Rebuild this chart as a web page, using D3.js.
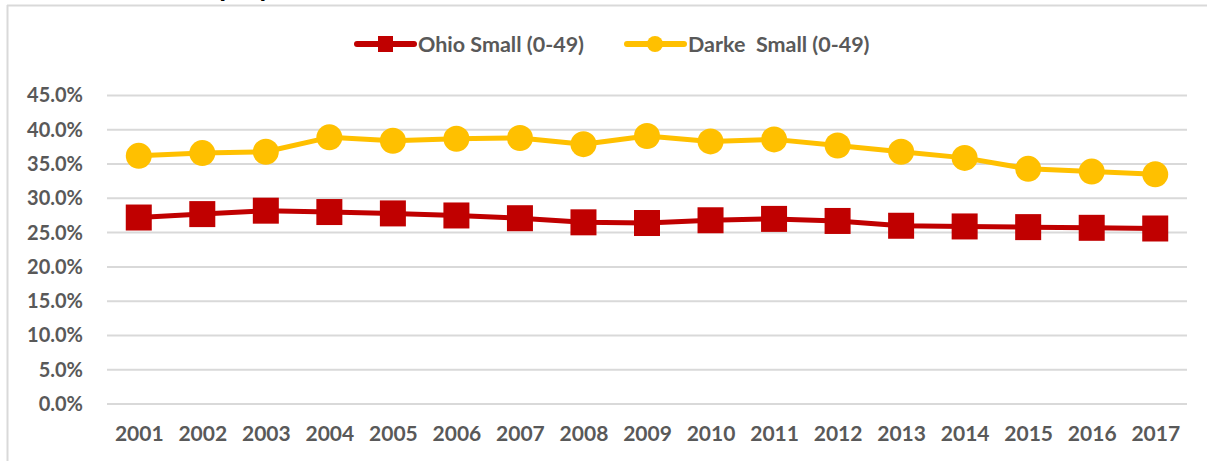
<!DOCTYPE html>
<html>
<head>
<meta charset="utf-8">
<script src="https://cdn.jsdelivr.net/npm/d3@7"></script>
<style>
  body { margin: 0; background: #fff; }
  svg { display: block; }
  text { font-family: Lato, "Open Sans", sans-serif; font-weight: bold; }
</style>
</head>
<body>
<div class="canvas"></div>
<script>
// data
const years = ['2001','2002','2003','2004','2005','2006','2007','2008','2009','2010','2011','2012','2013','2014','2015','2016','2017']
const ohioSmall = [27.2, 27.7, 28.2, 28.0, 27.8, 27.5, 27.1, 26.5, 26.4, 26.8, 27.0, 26.7, 26.0, 25.9, 25.8, 25.7, 25.6]
const darkeSmall = [36.2, 36.6, 36.8, 38.9, 38.4, 38.7, 38.8, 37.9, 39.1, 38.3, 38.6, 37.7, 36.8, 35.9, 34.3, 33.9, 33.5]
const yTicks = [0, 5, 10, 15, 20, 25, 30, 35, 40, 45]
const seriesNames = ['Ohio Small (0-49)', 'Darke\u00a0 Small (0-49)']

const width = 1207
const height = 461
const red = '#C00000'
const gold = '#FFC000'
const grey = '#595959'

const svg = d3.select('.canvas')
    .append('svg')
    .attr('width', width)
    .attr('height', height)

// title sits above the frame, only the descenders peek in
svg.append('text')
    .attr('x', 180)
    .attr('y', -4)
    .attr('font-size', 28)
    .attr('fill', '#000')
    .text('Employment')

// chart frame (only top and left edges show)
svg.append('line')
    .attr('x1', 7).attr('x2', width).attr('y1', 5.5).attr('y2', 5.5)
    .attr('stroke', '#d9d9d9').attr('stroke-width', 2)
svg.append('line')
    .attr('x1', 7.5).attr('x2', 7.5).attr('y1', 5).attr('y2', height)
    .attr('stroke', '#d9d9d9').attr('stroke-width', 2)

// scales
const x = d3.scalePoint()
    .domain(years)
    .range([107, 1187])
    .padding(0.5)

const y = d3.scaleLinear()
    .domain([0, 45])
    .range([404, 95.5])

// gridlines
svg.append('g')
    .selectAll('line')
    .data(yTicks)
    .enter()
    .append('line')
    .attr('x1', 107)
    .attr('x2', 1187)
    .attr('y1', d => y(d))
    .attr('y2', d => y(d))
    .attr('stroke', '#d9d9d9')
    .attr('stroke-width', 2)

// y axis
const yAxis = d3.axisLeft(y)
    .tickValues(yTicks)
    .tickFormat(d => d.toFixed(1) + '%')
    .tickSize(0)
    .tickPadding(0)

const yAxisGroup = svg.append('g')
    .attr('transform', 'translate(83, 0)')
    .call(yAxis)
yAxisGroup.select('.domain').remove()
yAxisGroup.selectAll('text')
    .attr('font-size', 20)
    .attr('font-family', 'Lato, sans-serif')
    .attr('font-weight', 900)
    .attr('fill', grey)

// x axis
const xAxis = d3.axisBottom(x).tickSize(0).tickPadding(0)
const xAxisGroup = svg.append('g')
    .attr('transform', 'translate(0, 426)')
    .call(xAxis)
xAxisGroup.select('.domain').remove()
xAxisGroup.selectAll('text')
    .attr('font-size', 21)
    .attr('font-family', 'Lato, sans-serif')
    .attr('font-weight', 900)
    .attr('fill', grey)

const line = d3.line()
    .x((d, i) => x(years[i]))
    .y(d => y(d))

// Darke series
svg.append('path')
    .datum(darkeSmall)
    .attr('d', line)
    .attr('fill', 'none')
    .attr('stroke', gold)
    .attr('stroke-width', 5)
    .attr('stroke-linejoin', 'round')

svg.append('g')
    .selectAll('circle')
    .data(darkeSmall)
    .enter()
    .append('circle')
    .attr('cx', (d, i) => x(years[i]))
    .attr('cy', d => y(d))
    .attr('r', 13)
    .attr('fill', gold)

// Ohio series
svg.append('path')
    .datum(ohioSmall)
    .attr('d', line)
    .attr('fill', 'none')
    .attr('stroke', red)
    .attr('stroke-width', 5)
    .attr('stroke-linejoin', 'round')

const sq = 26
svg.append('g')
    .selectAll('rect')
    .data(ohioSmall)
    .enter()
    .append('rect')
    .attr('x', (d, i) => x(years[i]) - sq / 2)
    .attr('y', d => y(d) - sq / 2)
    .attr('width', sq)
    .attr('height', sq)
    .attr('fill', red)

// legend
const legendY = 44
const legend = svg.append('g')

const leg1 = legend.append('g').attr('transform', 'translate(357, ' + legendY + ')')
leg1.append('line')
    .attr('x1', 0).attr('x2', 57)
    .attr('stroke', red).attr('stroke-width', 6).attr('stroke-linecap', 'round')
leg1.append('rect')
    .attr('x', 21).attr('y', -8).attr('width', 15).attr('height', 16)
    .attr('fill', red)
leg1.append('text')
    .attr('x', 61).attr('dy', '0.35em')
    .attr('font-size', 21.5)
    .attr('font-weight', 900)
    .attr('fill', grey)
    .text(seriesNames[0])

const leg2 = legend.append('g').attr('transform', 'translate(627, ' + legendY + ')')
leg2.append('line')
    .attr('x1', 0).attr('x2', 57)
    .attr('stroke', gold).attr('stroke-width', 6).attr('stroke-linecap', 'round')
leg2.append('circle')
    .attr('cx', 28).attr('r', 8)
    .attr('fill', gold)
leg2.append('text')
    .attr('x', 61).attr('dy', '0.35em')
    .attr('font-size', 21.5)
    .attr('font-weight', 900)
    .attr('fill', grey)
    .text(seriesNames[1])
</script>
</body>
</html>
